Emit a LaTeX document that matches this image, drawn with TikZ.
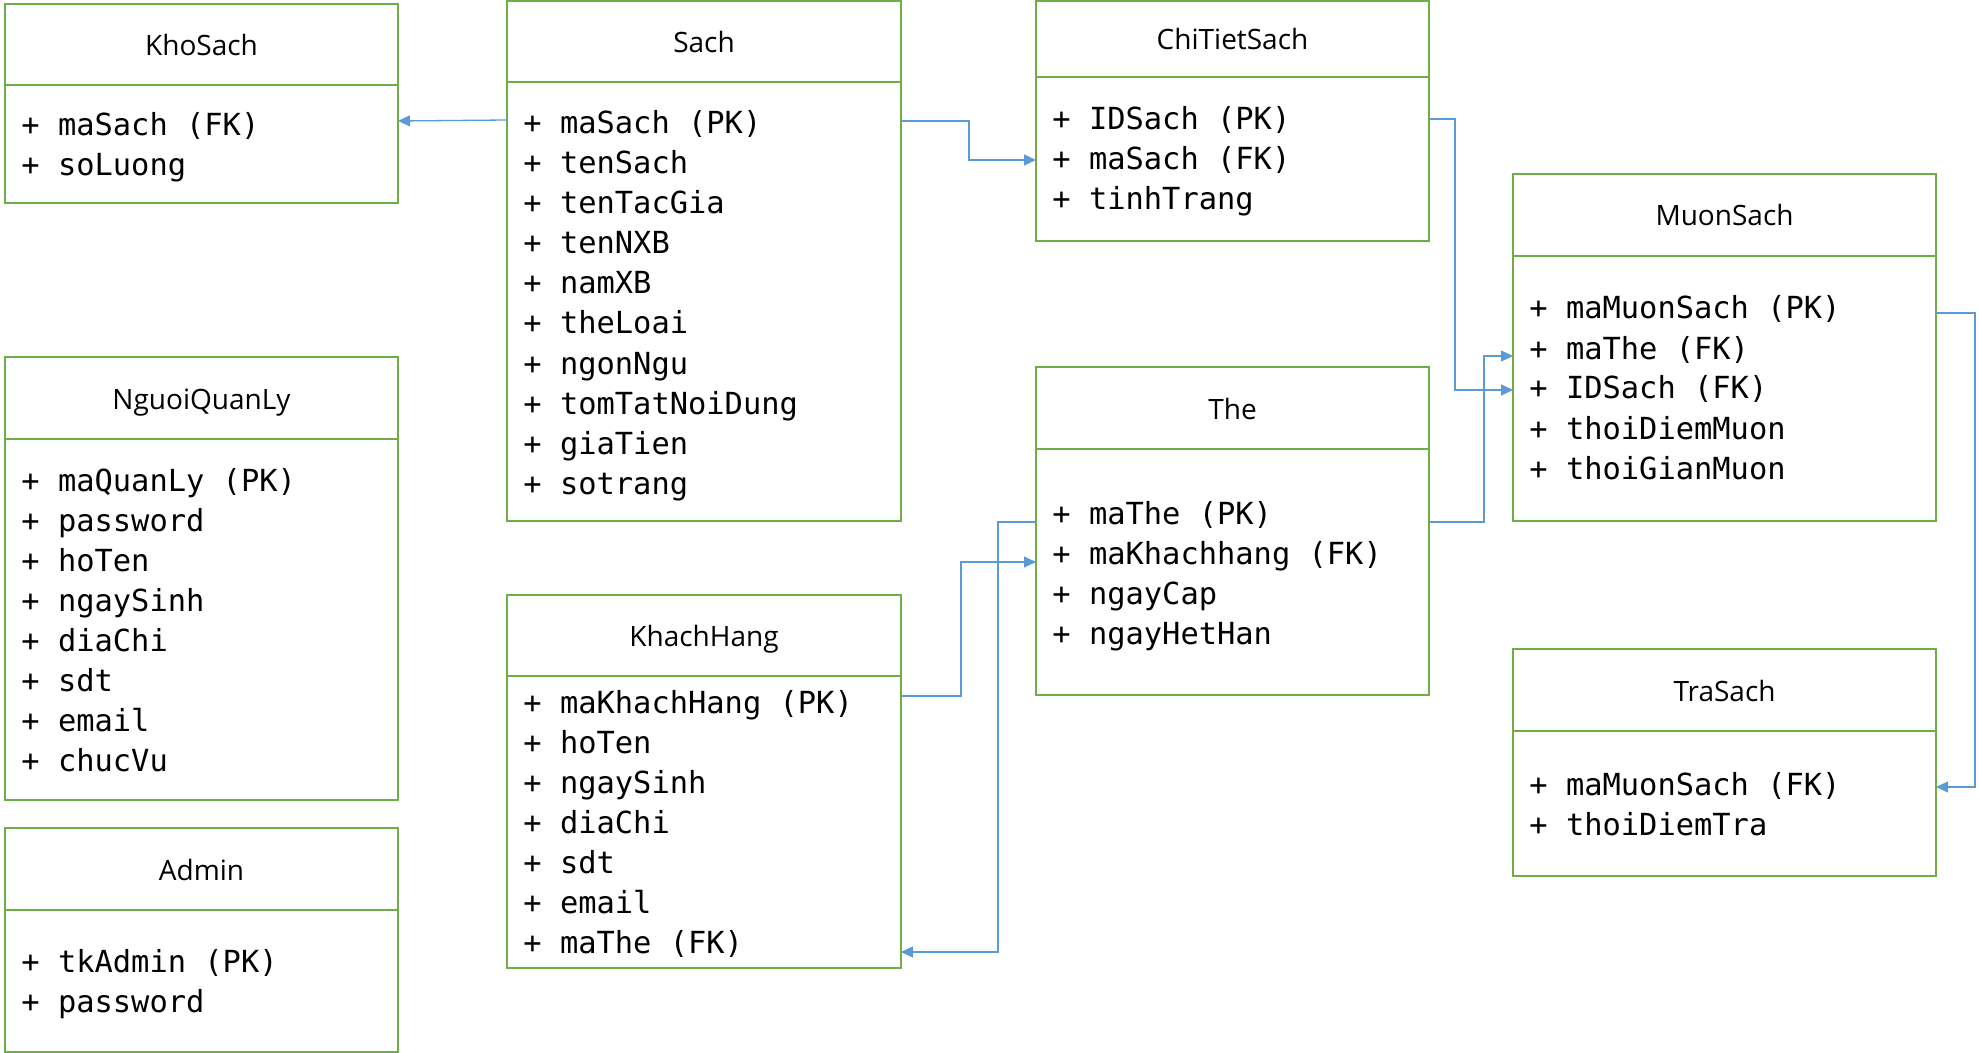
\documentclass[tikz,border=0pt]{standalone}
\usepackage{fontspec}
\setmonofont{DejaVu Sans Mono}
\newfontfamily\hdrfont{Open Sans}
\usetikzlibrary{arrows.meta}
\definecolor{boxgreen}{RGB}{112,173,71}
\definecolor{linkblue}{RGB}{91,155,213}
\tikzset{
  ebox/.style={draw=boxgreen, line width=0.9pt, rectangle, inner sep=0pt, outer sep=0pt},
  ediv/.style={draw=boxgreen, line width=0.9pt},
  etitle/.style={inner sep=0pt, font=\hdrfont\fontsize{14}{17}\selectfont, anchor=base},
  eattr/.style={inner sep=0pt, font=\ttfamily\fontsize{15.2}{18}\selectfont, anchor=base west},
  conn/.style={draw=linkblue, line width=0.65pt, -{Triangle[length=6pt,width=5.5pt]}},
}
% #1 name, #2 x, #3 y, #4 w, #5 h, #6 divider y, #7 title, #8 first attribute baseline, #9 attributes
\newcommand{\erEntity}[9]{%
  \node[ebox, minimum width=#4*0.5pt, minimum height=#5*0.5pt, anchor=north west] (#1) at (#2,#3) {};
  \draw[ediv] (#1.west |- 0,#6) -- (#1.east |- 0,#6);
  \pgfmathsetmacro\erTy{(#3+#6)/2+11}
  \node[etitle] (#1-title) at (#2+#4/2,\erTy) {#7};
  \foreach \erT [count=\erI from 0] in {#9} {
    \pgfmathsetmacro\erAy{#8+40*\erI}
    \node[eattr] (#1-a\erI) at (#2+16,\erAy) {+ \erT};
  }%
}
\begin{document}
\begin{tikzpicture}[x=0.5pt,y=-0.5pt]
\useasboundingbox (0,0) rectangle (1979,1053);
\erEntity{kho}{5}{4}{393}{199}{85}{KhoSach}{136}{maSach (FK),soLuong}
\erEntity{sach}{507}{1}{394}{520}{82}{Sach}{134}{maSach (PK),tenSach,tenTacGia,tenNXB,namXB,theLoai,ngonNgu,tomTatNoiDung,giaTien,sotrang}
\erEntity{ctsach}{1036}{1}{393}{240}{77}{ChiTietSach}{130}{IDSach (PK),maSach (FK),tinhTrang}
\erEntity{muon}{1513}{174}{423}{347}{256}{MuonSach}{319}{maMuonSach (PK),maThe (FK),IDSach (FK),thoiDiemMuon,thoiGianMuon}
\erEntity{the}{1036}{367}{393}{328}{449}{The}{524}{maThe (PK),maKhachhang (FK),ngayCap,ngayHetHan}
\erEntity{tra}{1513}{649}{423}{227}{731}{TraSach}{795}{maMuonSach (FK),thoiDiemTra}
\erEntity{nql}{5}{357}{393}{443}{439}{NguoiQuanLy}{491}{maQuanLy (PK),password,hoTen,ngaySinh,diaChi,sdt,email,chucVu}
\erEntity{admin}{5}{828}{393}{224}{910}{Admin}{972}{tkAdmin (PK),password}
\erEntity{kh}{507}{595}{394}{373}{676}{KhachHang}{713}{maKhachHang (PK),hoTen,ngaySinh,diaChi,sdt,email,maThe (FK)}
% connectors
\draw[conn] (sach.west |- 0,120) -- (kho.east |- 0,121);
\draw[conn] (sach.east |- 0,121) -- (969,121) -- (969,160) -- (ctsach.west |- 0,160);
\draw[conn] (ctsach.east |- 0,119) -- (1455,119) -- (1455,390) -- (muon.west |- 0,390);
\draw[conn] (the.east |- 0,522) -- (1484,522) -- (1484,356) -- (muon.west |- 0,356);
\draw[conn] (muon.east |- 0,313) -- (1975,313) -- (1975,787) -- (tra.east |- 0,787);
\draw[conn] (the.west |- 0,522) -- (998,522) -- (998,952) -- (kh.east |- 0,952);
\draw[conn] (kh.east |- 0,696) -- (961,696) -- (961,562) -- (the.west |- 0,562);
\end{tikzpicture}
\end{document}
